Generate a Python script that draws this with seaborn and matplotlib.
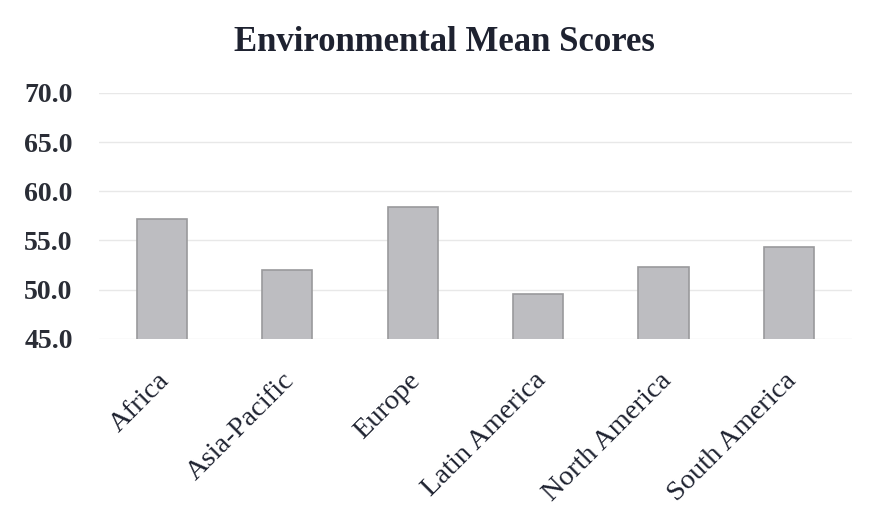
import pandas as pd
import numpy as np
import matplotlib
matplotlib.use("Agg")
import matplotlib.pyplot as plt
import matplotlib.transforms as mtransforms
import seaborn as sns

regions = ['Africa', 'Asia-Pacific', 'Europe', 'Latin America', 'North America', 'South America']
scores = [57.2, 52.0, 58.4, 49.6, 52.3, 54.3]
yticks = [45, 50, 55, 60, 65, 70]

sns.set_theme(style="white")
plt.rcParams['font.family'] = ['Liberation Serif', 'DejaVu Serif']

df = pd.DataFrame({'region': regions, 'score': scores})

fig = plt.figure(figsize=(8.69, 5.05), dpi=100)
ax = fig.add_axes([0.114, 0.329, 0.866, 0.487])

sns.barplot(data=df, x='region', y='score', ax=ax, width=0.4,
            color='#bdbdc1', edgecolor='#9a9a9c', linewidth=1.2, saturation=1)

ax.set_ylim(45, 70)
ax.set_yticks(yticks)
ax.set_yticklabels(["%.1f" % t for t in yticks], fontsize=20, fontweight='bold', color='#2a2d36')
ax.yaxis.grid(True, color='#e8e8e8', linewidth=1)
ax.set_axisbelow(True)
ax.tick_params(axis='y', length=0, pad=19)
ax.tick_params(axis='x', length=0, pad=21)
shift = mtransforms.ScaledTranslation(-5 / 100, 0, fig.dpi_scale_trans)
for lab in ax.get_xticklabels():
    lab.set_rotation(45)
    lab.set_ha('right')
    lab.set_rotation_mode('anchor')
    lab.set_fontsize(20.5)
    lab.set_color('#1e2230')
    lab.set_transform(lab.get_transform() + shift)
ax.set_xlabel('')
ax.set_ylabel('')
sns.despine(ax=ax, left=True, bottom=True)

fig.text(0.512, 0.915, 'Environmental Mean Scores', ha='center', va='center',
         fontsize=25, fontweight='bold', color='#1e2230')

plt.savefig('out.png', dpi=100)
